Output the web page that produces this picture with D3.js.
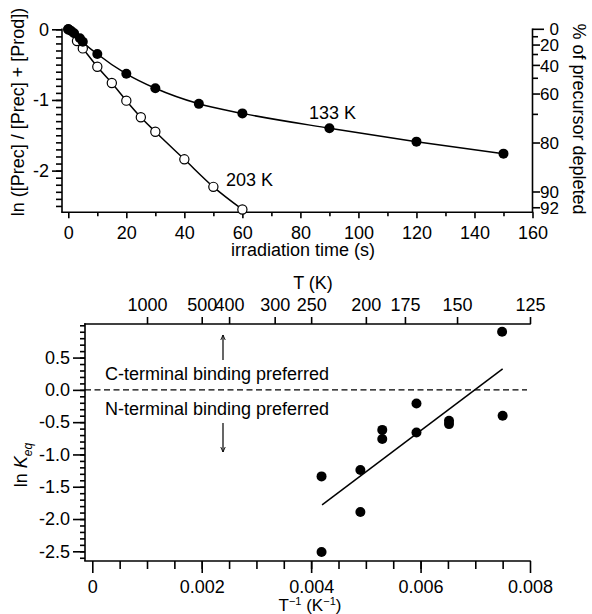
<html>
<head>
<meta charset="utf-8">
<script src="https://d3js.org/d3.v7.min.js"></script>
<style>
  body { margin: 0; background: #fff; }
  svg { font-family: "Liberation Sans", Arial, sans-serif; }
  text { fill: #000; }
</style>
</head>
<body>
<script>
// ---- top panel data: ln fraction of precursor vs irradiation time
var t133 = [0, 1, 2, 4, 5, 10, 20, 30, 45, 60, 90, 120, 150];
var y133 = [0, -0.025, -0.057, -0.127, -0.175, -0.35, -0.63, -0.835, -1.055, -1.19, -1.40, -1.59, -1.76];
var t203 = [0, 3, 5, 10, 15, 20, 25, 30, 40, 50, 60];
var y203 = [0, -0.165, -0.27, -0.53, -0.76, -1.01, -1.245, -1.45, -1.84, -2.23, -2.55];
var timeTicks = [0, 20, 40, 60, 80, 100, 120, 140, 160];
var lnTicks = [0, -1, -2];
var pctTicks = [0, 20, 40, 60, 80, 90, 92];
var pctMinor = [10, 30, 50, 70];

// ---- bottom panel data: ln Keq vs 1/T
var invT = [0.00749, 0.0075, 0.005925, 0.005925, 0.00652, 0.00652, 0.0053, 0.0053, 0.0049, 0.0049, 0.00419, 0.00419];
var lnK = [0.90, -0.40, -0.21, -0.66, -0.48, -0.53, -0.62, -0.76, -1.24, -1.89, -1.34, -2.51];
var fitX = [0.0042, 0.0075];
var fitY = [-1.78, 0.325];
var invTTicks = [0, 0.002, 0.004, 0.006, 0.008];
var lnKTicks = [0.5, 0.0, -0.5, -1.0, -1.5, -2.0, -2.5];
var tempTicks = [1000, 500, 400, 300, 250, 200, 175, 150, 125];

var svg = d3.select("body").append("svg")
    .attr("width", 592)
    .attr("height", 614);

var fs = 18, sw = 1.6;

function drawLine(g, xa, ya, xb, yb, w) {
  return g.append("line").attr("x1", xa).attr("y1", ya).attr("x2", xb).attr("y2", yb)
    .attr("stroke", "#000").attr("stroke-width", w || sw);
}
function styleAxis(g) {
  g.select(".domain").remove();
  g.selectAll("line").attr("stroke-width", sw);
  g.selectAll("text").attr("font-size", fs).attr("font-family", null);
}

// ================= top panel =================
var x1 = d3.scaleLinear().domain([0, 160]).range([68.3, 532.5]);
var y1 = d3.scaleLinear().domain([0, -2.59]).range([29.3, 212.3]);
var gTop = svg.append("g");

// axis lines
drawLine(gTop, 62, 28.5, 62, 212.3);
drawLine(gTop, 61.2, 212.3, 533.3, 212.3);
drawLine(gTop, 532.5, 28.5, 532.5, 212.3);

// left axis
gTop.append("g").attr("transform", "translate(62,0)")
  .call(d3.axisLeft(y1).tickValues(d3.range(0, -2.55, -0.1)).tickSize(6).tickFormat(""))
  .call(styleAxis);
gTop.append("g").attr("transform", "translate(62,0)")
  .call(d3.axisLeft(y1).tickValues(lnTicks).tickSize(10).tickPadding(3)
    .tickFormat(function(d) { return d === 0 ? "0" : "-" + Math.abs(d); }))
  .call(styleAxis);

// bottom axis
gTop.append("g").attr("transform", "translate(0,212.3)")
  .call(d3.axisBottom(x1).tickValues(d3.range(10, 160, 20)).tickSize(4).tickFormat(""))
  .call(styleAxis);
gTop.append("g").attr("transform", "translate(0,212.3)")
  .call(d3.axisBottom(x1).tickValues(timeTicks).tickSize(6).tickPadding(8))
  .call(styleAxis);

// right axis: % of precursor depleted
function pctY(p) { return y1(Math.log(1 - p / 100)); }
gTop.selectAll(".pmin").data(pctMinor).enter().append("line")
  .attr("x1", 532.5).attr("x2", 538).attr("y1", pctY).attr("y2", pctY)
  .attr("stroke", "#000").attr("stroke-width", sw);
gTop.selectAll(".pmaj").data(pctTicks).enter().append("line")
  .attr("x1", 532.5).attr("x2", function(d) { return d === 0 ? 544 : 540; })
  .attr("y1", pctY).attr("y2", pctY)
  .attr("stroke", "#000").attr("stroke-width", sw);
gTop.selectAll(".plab").data(pctTicks).enter().append("text")
  .attr("x", 559).attr("y", pctY).attr("dy", "0.36em")
  .attr("text-anchor", "end").attr("font-size", 17)
  .text(function(d) { return d; });

// curves
var c133 = t133.map(function(t, i) { return [t, y133[i]]; });
var c203 = t203.map(function(t, i) { return [t, y203[i]]; });
var path = d3.line().x(function(d) { return x1(d[0]); }).y(function(d) { return y1(d[1]); })
  .curve(d3.curveMonotoneX);
gTop.append("path").attr("d", path(c203)).attr("fill", "none").attr("stroke", "#000").attr("stroke-width", 1.5);
gTop.append("path").attr("d", path(c133)).attr("fill", "none").attr("stroke", "#000").attr("stroke-width", 1.5);

gTop.selectAll(".o203").data(c203).enter().append("circle")
  .attr("cx", function(d) { return x1(d[0]); }).attr("cy", function(d) { return y1(d[1]); })
  .attr("r", 4.6).attr("fill", "#fff").attr("stroke", "#000").attr("stroke-width", 1.2);
gTop.selectAll(".f133").data(c133).enter().append("circle")
  .attr("cx", function(d) { return x1(d[0]); }).attr("cy", function(d) { return y1(d[1]); })
  .attr("r", 5).attr("fill", "#000");

gTop.append("text").attr("x", 309).attr("y", 119).attr("font-size", fs).text("133 K");
gTop.append("text").attr("x", 226).attr("y", 186).attr("font-size", fs).text("203 K");

gTop.append("text").attr("x", 303).attr("y", 256).attr("text-anchor", "middle").attr("font-size", fs)
  .text("irradiation time (s)");
gTop.append("text").attr("transform", "translate(24,112) rotate(-90)")
  .attr("text-anchor", "middle").attr("font-size", fs)
  .text("ln ([Prec] / [Prec] + [Prod])");
gTop.append("text").attr("transform", "translate(573,119) rotate(90)")
  .attr("text-anchor", "middle").attr("font-size", fs)
  .text("% of precursor depleted");

// ================= bottom panel =================
var x2 = d3.scaleLinear().domain([0, 0.008]).range([92.3, 530]);
var y2 = d3.scaleLinear().domain([-2.65, 1.02]).range([561, 324]);
var gBot = svg.append("g");

drawLine(gBot, 85, 323.2, 85, 561);
drawLine(gBot, 84.2, 324, 530.8, 324);
drawLine(gBot, 84.2, 561, 530.8, 561);

// left axis
gBot.append("g").attr("transform", "translate(85,0)")
  .call(d3.axisLeft(y2).tickValues(d3.range(-2.6, 1.01, 0.1)).tickSize(5).tickFormat(""))
  .call(styleAxis);
gBot.append("g").attr("transform", "translate(85,0)")
  .call(d3.axisLeft(y2).tickValues(lnKTicks).tickSize(12).tickPadding(3)
    .tickFormat(function(d) { return d.toFixed(1); }))
  .call(styleAxis);

// bottom axis
gBot.append("g").attr("transform", "translate(0,561)")
  .call(d3.axisBottom(x2).tickValues(d3.range(0.0005, 0.008, 0.0005)).tickSize(8).tickFormat(""))
  .call(styleAxis);
gBot.append("g").attr("transform", "translate(0,561)")
  .call(d3.axisBottom(x2).tickValues(invTTicks).tickSize(12).tickPadding(7)
    .tickFormat(function(d) { return d === 0 ? "0" : d.toFixed(3); }))
  .call(styleAxis);

// top axis: temperature
gBot.append("g").attr("transform", "translate(0,324)")
  .call(d3.axisTop(x2).tickValues(tempTicks.map(function(T) { return 1 / T; })).tickSize(7).tickPadding(6)
    .tickFormat(function(d) { return Math.round(1 / d); }))
  .call(styleAxis);
gBot.append("text").attr("x", 313).attr("y", 289).attr("text-anchor", "middle").attr("font-size", fs)
  .text("T (K)");

// zero line
gBot.append("line").attr("x1", 85).attr("x2", 527).attr("y1", y2(0)).attr("y2", y2(0))
  .attr("stroke", "#000").attr("stroke-width", 1.3).attr("stroke-dasharray", "6,3.5");

// annotations
gBot.append("text").attr("x", 105).attr("y", y2(0) - 10).attr("font-size", fs).text("C-terminal binding preferred");
gBot.append("text").attr("x", 105).attr("y", y2(0) + 25).attr("font-size", fs).text("N-terminal binding preferred");
svg.append("defs").append("marker").attr("id", "ah").attr("viewBox", "0 0 10 10")
  .attr("refX", 9).attr("refY", 5).attr("markerWidth", 6).attr("markerHeight", 6)
  .attr("markerUnits", "userSpaceOnUse").attr("orient", "auto")
  .append("path").attr("d", "M0,1 L9,5 L0,9").attr("fill", "none").attr("stroke", "#000").attr("stroke-width", 1.5);
drawLine(gBot, 223, 360, 223, 335, 1.2).attr("marker-end", "url(#ah)");
drawLine(gBot, 223, 423, 223, 452, 1.2).attr("marker-end", "url(#ah)");

// fit line and points
gBot.append("line")
  .attr("x1", x2(fitX[0])).attr("y1", y2(fitY[0]))
  .attr("x2", x2(fitX[1])).attr("y2", y2(fitY[1]))
  .attr("stroke", "#000").attr("stroke-width", 1.5);
gBot.selectAll(".pt").data(invT).enter().append("circle")
  .attr("cx", function(d) { return x2(d); })
  .attr("cy", function(d, i) { return y2(lnK[i]); })
  .attr("r", 5).attr("fill", "#000");

// axis titles
var yl = gBot.append("text").attr("transform", "translate(27,465) rotate(-90)")
  .attr("text-anchor", "middle").attr("font-size", fs);
yl.append("tspan").text("ln ");
yl.append("tspan").attr("font-style", "italic").text("K");
yl.append("tspan").attr("font-style", "italic").attr("font-size", 12).attr("dy", 5).text("eq");

var xl = gBot.append("text").attr("x", 310).attr("y", 611).attr("text-anchor", "middle").attr("font-size", 17);
xl.append("tspan").text("T");
xl.append("tspan").attr("font-size", 11).attr("dy", -6).text("\u22121");
xl.append("tspan").attr("dy", 6).text(" (K");
xl.append("tspan").attr("font-size", 11).attr("dy", -6).text("\u22121");
xl.append("tspan").attr("dy", 6).text(")");
</script>
</body>
</html>
